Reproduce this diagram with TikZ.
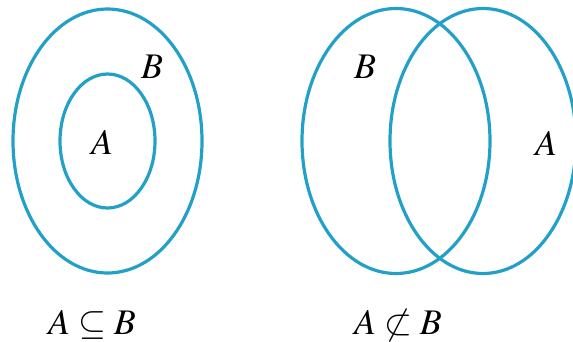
\documentclass[tikz,border=0pt]{standalone}
\usepackage{mathptmx}
\usetikzlibrary{shapes.geometric}
\definecolor{venn}{RGB}{35,160,200}
\begin{document}
\begin{tikzpicture}[x=1pt,y=-1pt,
  setshape/.style={ellipse, draw=venn, line width=3.2pt, inner sep=0pt},
  lbl/.style={font=\fontsize{36}{40}\selectfont, inner sep=0pt}]
\useasboundingbox (0,0) rectangle (573,341);
\clip (0,0) rectangle (573,341);
% left diagram
\node[setshape, minimum width=189, minimum height=264] (Bout) at (107.5,141) {};
\node[setshape, minimum width=95, minimum height=134] (Ain) at (107.5,141) {};
\node[lbl] (lB) at (152,67) {$B$};
\node[lbl] (lA) at (102,142) {$A$};
% right diagram
\node[setshape, minimum width=188, minimum height=265] (Bright) at (396,141) {};
\node[setshape, minimum width=186, minimum height=265] (Aright) at (483,141) {};
\node[lbl] (rB) at (365,67) {$B$};
\node[lbl] (rA) at (546,143) {$A$};
% captions
\node[lbl] (cap1) at (92,325) {$A\subseteq B$};
\node[lbl] (cap2) at (398,325) {$A\not\subset B$};
\end{tikzpicture}
\end{document}
